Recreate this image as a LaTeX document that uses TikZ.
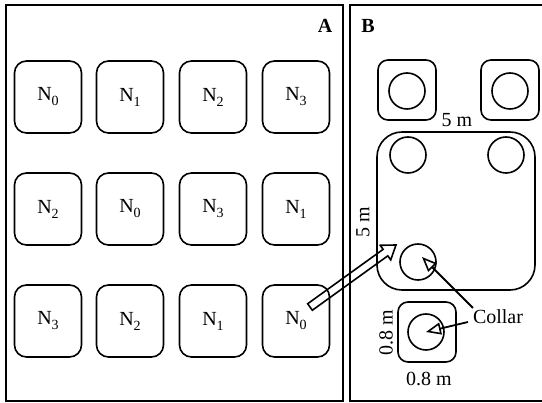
\documentclass[tikz,border=0pt]{standalone}
\usepackage{fontspec}
\setmainfont{Liberation Serif}
\usetikzlibrary{calc,arrows.meta}
\newcommand{\nsub}[1]{N\raisebox{-5pt}{\fontsize{14}{16}\selectfont #1}}
\begin{document}
\begin{tikzpicture}[x=1pt,y=-1pt,
  panel/.style={draw,line width=1.6pt},
  plot/.style={draw,line width=1.6pt,rounded corners=12pt,minimum width=67pt,minimum height=72pt,inner sep=0pt,font=\fontsize{20}{22}\selectfont},
  tree/.style={draw,line width=1.6pt,rounded corners=10pt,minimum width=58pt,minimum height=60pt,inner sep=0pt},
  ring/.style={draw,line width=1.6pt,circle,minimum size=36pt,inner sep=0pt},
  lab/.style={font=\fontsize{20}{22}\selectfont,inner sep=1pt},
  ptr/.style={line width=1.8pt,-{Triangle[open,length=15pt,width=12pt,line width=1.6pt]}},
  hollow/.style={line width=1.6pt,line join=miter}]
\useasboundingbox (0,0) rectangle (542,403);
\clip (0,0) rectangle (542,403);
% panels
\draw[panel] (6,5) rectangle (343,401);
\draw[panel] (350,5) rectangle (546,401);
\node[font=\fontsize{20}{22}\selectfont\bfseries] (la) at (325,26) {A};
\node[font=\fontsize{20}{22}\selectfont\bfseries] (lb) at (368,26) {B};
% panel A plots
\node[plot] (p11) at (48,97) {\nsub{0}};
\node[plot] (p12) at (130,97) {\nsub{1}};
\node[plot] (p13) at (213,97) {\nsub{2}};
\node[plot] (p14) at (296,97) {\nsub{3}};
\node[plot] (p21) at (48,209) {\nsub{2}};
\node[plot] (p22) at (130,209) {\nsub{0}};
\node[plot] (p23) at (213,209) {\nsub{3}};
\node[plot] (p24) at (296,209) {\nsub{1}};
\node[plot] (p31) at (48,321) {\nsub{3}};
\node[plot] (p32) at (130,321) {\nsub{2}};
\node[plot] (p33) at (213,321) {\nsub{1}};
\node[plot] (p34) at (296,321) {\nsub{0}};
% panel B
\node[tree] (t1) at (407,90) {};
\node[tree] (t2) at (510,90) {};
\node[ring] (c1) at (407,91) {};
\node[ring] (c2) at (510,91) {};
\draw[line width=1.6pt,rounded corners=25pt] (377,132) rectangle (535,290);
\node[ring] (c3) at (408,155) {};
\node[ring] (c4) at (506,155) {};
\node[ring] (c5) at (418,262) {};
\node[tree] (t3) at (427,332) {};
\node[ring] (c6) at (426,332) {};
\node[lab] (m1) at (457,120) {5 m};
\node[lab,rotate=90] (m2) at (363,222) {5 m};
\node[lab,rotate=90] (m3) at (386,333) {0.8 m};
\node[lab] (m4) at (429,379) {0.8 m};
\node[lab] (collar) at (498,317) {Collar};
\coordinate (a1) at (473,308);
\coordinate (a2) at (468,322);
\draw[ptr] (a1) -- (422,257);
\draw[ptr] (a2) -- (c6.center);
% hollow arrow
\coordinate (s) at (310,307);
\coordinate (t) at (396,245);
\coordinate (h) at ($(t)!13pt!(s)$);
\draw[hollow] ($(s)!4pt!90:(t)$) -- ($(h)!4pt!90:(t)$) -- ($(h)!9pt!90:(t)$) -- (t)
  -- ($(h)!9pt!-90:(t)$) -- ($(h)!4pt!-90:(t)$) -- ($(s)!4pt!-90:(t)$) -- cycle;
\end{tikzpicture}
\end{document}
